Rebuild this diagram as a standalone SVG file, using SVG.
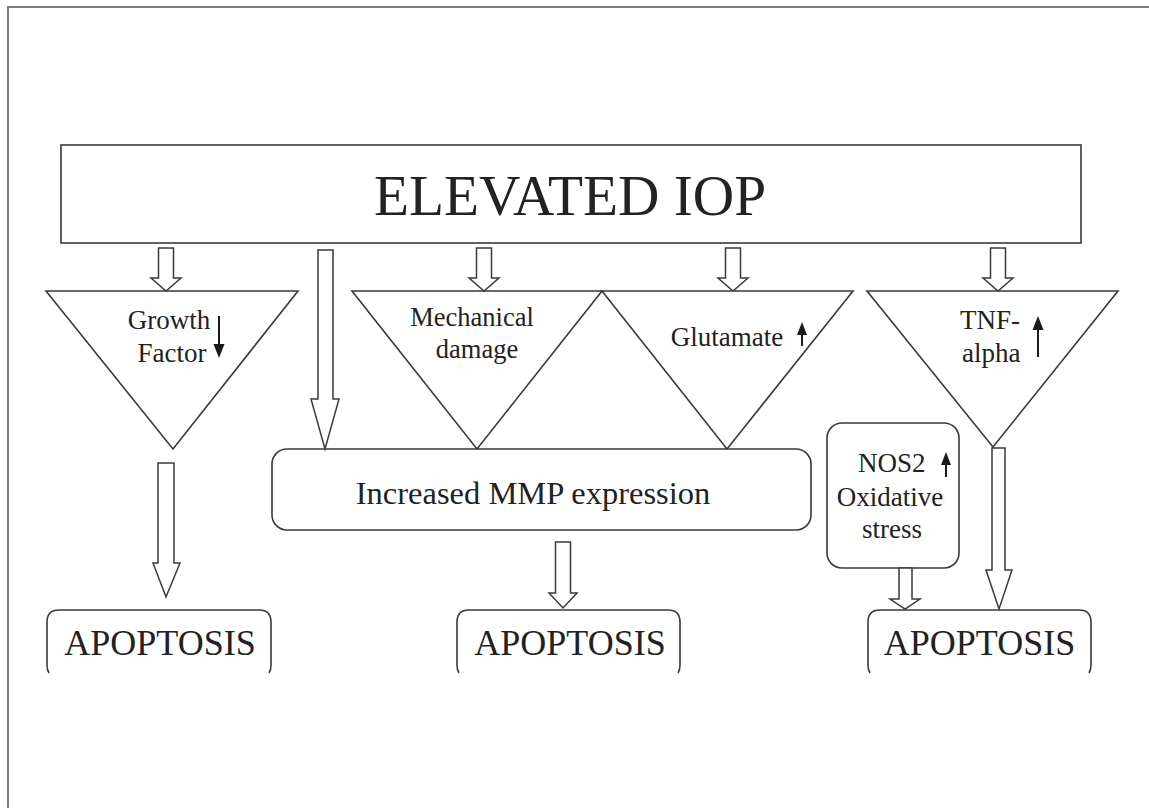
<svg xmlns="http://www.w3.org/2000/svg" width="1149" height="808" viewBox="0 0 1149 808">
<style>
  .shape { fill: #ffffff; stroke: #3a3a3a; stroke-width: 1.6; stroke-linejoin: miter; }
  .harrow { fill: #ffffff; stroke: #3a3a3a; stroke-width: 1.5; }
  .frame { fill: none; stroke: #7a7a7a; stroke-width: 2; }
  .txt { font-family: "Liberation Serif", "Times New Roman", serif; fill: #222222; }
  .t27 { font-size: 27px; }
  .t36 { font-size: 36px; }
  .indicator { stroke: #1a1a1a; stroke-width: 2; fill: none; }
  .head { fill: #1a1a1a; stroke: none; }
</style>
<rect x="0" y="0" width="1149" height="808" fill="#ffffff"/>
<path class="frame" d="M8,808 L8,7 L1149,7"/>

<g id="elevated-iop">
  <rect class="shape" x="61" y="145" width="1020" height="98"/>
  <text class="txt" x="570" y="215" font-size="56" text-anchor="middle" textLength="392" lengthAdjust="spacingAndGlyphs">ELEVATED IOP</text>
</g>

<g id="growth-factor">
  <polygon class="shape" points="46,291 298,291 173,449"/>
  <text class="txt t27" x="169" y="329" text-anchor="middle">Growth</text>
  <text class="txt t27" x="172" y="362" text-anchor="middle">Factor</text>
  <line class="indicator" x1="219" y1="316" x2="219" y2="346"/>
  <polygon class="head" points="213.5,344 224.5,344 219,358"/>
</g>

<g id="mechanical-damage">
  <polygon class="shape" points="352,291 602,291 477,449"/>
  <text class="txt" font-size="26.5" x="472" y="326" text-anchor="middle">Mechanical</text>
  <text class="txt" font-size="26.5" x="477" y="358" text-anchor="middle">damage</text>
</g>

<g id="glutamate">
  <polygon class="shape" points="602,291 853,291 727,449"/>
  <text class="txt t27" x="727" y="346" text-anchor="middle">Glutamate</text>
  <line class="indicator" x1="802" y1="333" x2="802" y2="346"/>
  <polygon class="head" points="797,335 807,335 802,322"/>
</g>

<g id="tnf-alpha">
  <polygon class="shape" points="867,291 1118,291 993,447"/>
  <text class="txt t27" x="960" y="329">TNF-</text>
  <text class="txt t27" x="962" y="362">alpha</text>
  <line class="indicator" x1="1038" y1="328" x2="1038" y2="357"/>
  <polygon class="head" points="1032.5,330 1043.5,330 1038,316"/>
</g>

<g id="mmp">
  <rect class="shape" x="272" y="449" width="539" height="81" rx="15" ry="15"/>
  <text class="txt" x="533" y="504" font-size="32.5" text-anchor="middle">Increased MMP expression</text>
</g>

<g id="nos2">
  <rect class="shape" x="827" y="423" width="132" height="145" rx="15" ry="15"/>
  <text class="txt t27" x="858" y="472">NOS2</text>
  <text class="txt t27" x="890" y="506" text-anchor="middle">Oxidative</text>
  <text class="txt t27" x="892" y="538" text-anchor="middle">stress</text>
  <line class="indicator" x1="946" y1="463" x2="946" y2="477"/>
  <polygon class="head" points="941,465 951,465 946,452"/>
</g>

<g id="apoptosis-1">
  <path class="shape" d="M49,673 Q47,670 47,665 L47,622 Q47,610 59,610 L259,610 Q271,610 271,622 L271,665 Q271,670 269,673"/>
  <text class="txt t36" x="160" y="655" text-anchor="middle">APOPTOSIS</text>
</g>

<g id="apoptosis-2">
  <path class="shape" d="M459,673 Q457,670 457,665 L457,622 Q457,610 469,610 L668,610 Q680,610 680,622 L680,665 Q680,670 678,673"/>
  <text class="txt t36" x="570" y="655" text-anchor="middle">APOPTOSIS</text>
</g>

<g id="apoptosis-3">
  <path class="shape" d="M870,673 Q868,670 868,665 L868,622 Q868,610 880,610 L1079,610 Q1091,610 1091,622 L1091,665 Q1091,670 1089,673"/>
  <text class="txt t36" x="979.5" y="655" text-anchor="middle">APOPTOSIS</text>
</g>

<g id="connectors">
  <polygon class="harrow" points="158.5,248 173.5,248 173.5,278 181,278 166,291 151,278 158.5,278"/>
  <polygon class="harrow" points="476.5,248 491.5,248 491.5,278 499,278 484,291 469,278 476.5,278"/>
  <polygon class="harrow" points="725.5,248 740.5,248 740.5,278 748,278 733,291 718,278 725.5,278"/>
  <polygon class="harrow" points="990.5,248 1005.5,248 1005.5,278 1013,278 998,291 983,278 990.5,278"/>
  <polygon class="harrow" points="318,250 333,250 333,399 339,399 325,449 311,399 318,399"/>
  <polygon class="harrow" points="158,463 174,463 174,563 180,563 166,597 153,563 158,563"/>
  <polygon class="harrow" points="555.5,542 570.5,542 570.5,593 577,593 563,608 549,593 555.5,593"/>
  <polygon class="harrow" points="899,568 912,568 912,599 920,599 905,609 890,599 899,599"/>
  <polygon class="harrow" points="992,448 1005,448 1005,570 1012,570 999,609 986,570 992,570"/>
</g>
</svg>
